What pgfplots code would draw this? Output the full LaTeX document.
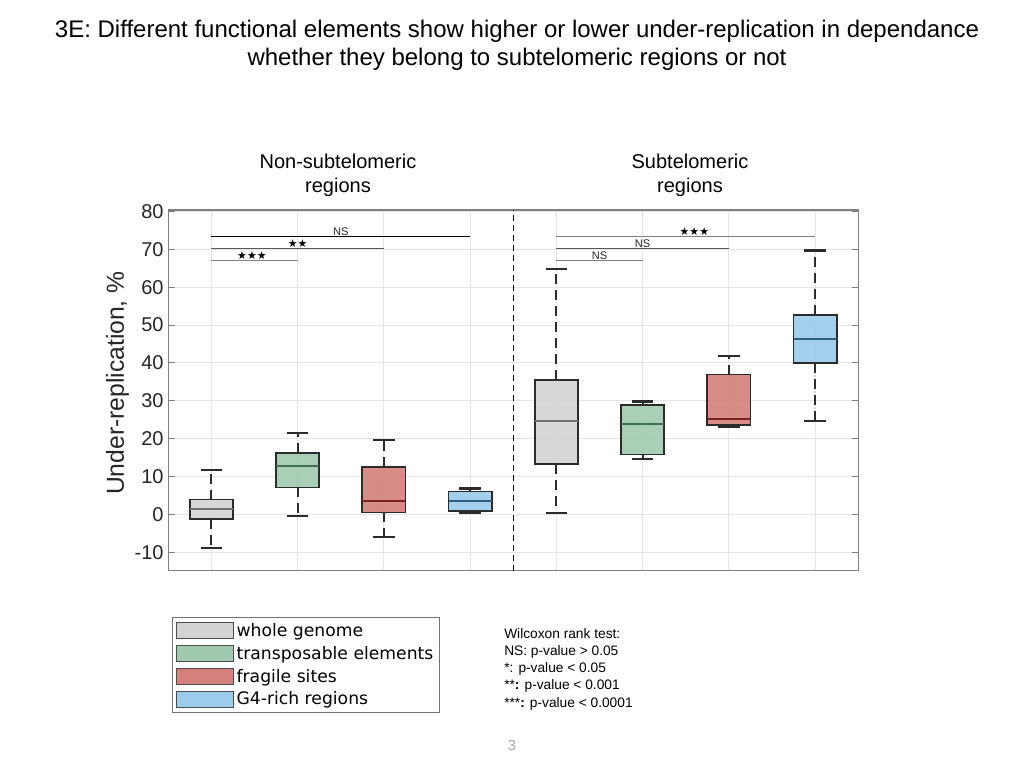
\documentclass[border=0pt]{standalone}
\usepackage{pgfplots}
\pgfplotsset{compat=1.18}
\usepgfplotslibrary{statistics}
\usepackage{fontspec}
\setmainfont{Liberation Sans}
\newfontfamily\dejavu{DejaVu Sans}
\definecolor{cgray}{HTML}{D3D3D3}
\definecolor{cgreen}{HTML}{A0CAB0}
\definecolor{cred}{HTML}{D4807C}
\definecolor{cblue}{HTML}{9CCBEC}
\definecolor{mgray}{HTML}{707070}
\definecolor{mgreen}{HTML}{3F6F55}
\definecolor{mred}{HTML}{7A2222}
\definecolor{mblue}{HTML}{2F5F80}
\definecolor{edge}{HTML}{2B2B2B}
\definecolor{txt}{HTML}{262626}
\newcommand{\stars}[1]{{\dejavu\fontsize{8.2}{8}\selectfont #1}}
\pgfplotsset{
  boxplot/draw direction=y,
  mybox/.style n args={7}{
    forget plot,
    boxplot prepared={draw position=#1, lower whisker=#2, lower quartile=#3, median=#4,
      upper quartile=#5, upper whisker=#6, box extend=0.5, whisker extend=0.25,
      every box/.style={fill=c#7, fill opacity=0.9, draw=edge, line width=1.3pt},
      every median/.style={draw=m#7, line width=1.5pt}},
  },
  boxplot/draw/lower whisker/.code={%
    \draw[edge, line width=1.6pt, dash pattern=on 7.5pt off 4.5pt]
      (boxplot cs:\pgfplotsboxplotvalue{lower quartile}) -- (boxplot cs:\pgfplotsboxplotvalue{lower whisker});
    \draw[edge, line width=1.6pt, solid]
      (boxplot whisker cs:\pgfplotsboxplotvalue{lower whisker},0) -- (boxplot whisker cs:\pgfplotsboxplotvalue{lower whisker},1);
  },
  boxplot/draw/upper whisker/.code={%
    \draw[edge, line width=1.6pt, dash pattern=on 7.5pt off 4.5pt]
      (boxplot cs:\pgfplotsboxplotvalue{upper quartile}) -- (boxplot cs:\pgfplotsboxplotvalue{upper whisker});
    \draw[edge, line width=1.6pt, solid]
      (boxplot whisker cs:\pgfplotsboxplotvalue{upper whisker},0) -- (boxplot whisker cs:\pgfplotsboxplotvalue{upper whisker},1);
  },
}
\begin{document}
\begin{tikzpicture}[x=0.75pt,y=0.75pt]
\path[fill=white] (0,0) rectangle (1024,768);
\node[font=\fontsize{18}{21}\selectfont, align=center, text=black] at (517,768-45)
  {3E: Different functional elements show higher or lower under-replication in dependance\\whether they belong to subtelomeric regions or not};
\node[font=\fontsize{15}{18}\selectfont, align=center] at (338,768-175) {Non-subtelomeric\\regions};
\node[font=\fontsize{15}{18}\selectfont, align=center] at (690,768-175) {Subtelomeric\\regions};

\begin{axis}[
  at={(126.2pt,148pt)}, anchor=south west, scale only axis,
  width=517.5pt, height=270.5pt,
  xmin=0.5, xmax=8.5, ymin=-14.9, ymax=80.4,
  xtick={1,...,8}, xticklabels={},
  ytick={-10,0,10,20,30,40,50,60,70,80},
  yticklabels={-10,0,10,20,30,40,50,60,70,80},
  grid=major, major grid style={color=black!10, line width=0.6pt},
  axis line style={color=black!50, line width=0.8pt},
  x tick style={draw=none},
  y tick style={color=black!50, line width=0.8pt},
  major tick length=5pt, tick align=inside, ytick pos=both,
  yticklabel style={font=\fontsize{15}{17}\selectfont, text=txt},
  ylabel={Under-replication, \%},
  every axis y label/.style={at={(axis description cs:-0.0735,0.52)}, rotate=90, anchor=center,
     font=\fontsize{18.5}{20}\selectfont, text=txt},
  legend image code/.code={\draw[#1] (0pt,-6pt) rectangle (42.75pt,6pt);},
  legend style={at={(axis description cs:0.0054,-0.1284)}, anchor=north west,
     draw=black!55, line width=0.8pt, font=\dejavu\fontsize{12.9}{14}\selectfont,
     inner xsep=2.5pt, inner ysep=2.2pt, row sep=1.9pt, cells={anchor=west}},
  clip=false,
]
% non-subtelomeric
\addplot[mybox={1}{-8.9}{-1.3}{1.5}{3.9}{11.7}{gray}] coordinates {};
\addplot[mybox={2}{-0.4}{7.1}{12.7}{16.2}{21.4}{green}] coordinates {};
\addplot[mybox={3}{-6.1}{0.5}{3.5}{12.5}{19.6}{red}] coordinates {};
\addplot[mybox={4}{0.3}{0.9}{3.5}{6.0}{6.8}{blue}] coordinates {};
% subtelomeric
\addplot[mybox={5}{0.3}{13.2}{24.6}{35.5}{64.7}{gray}] coordinates {};
\addplot[mybox={6}{14.7}{15.8}{23.9}{28.9}{29.8}{green}] coordinates {};
\addplot[mybox={7}{23.0}{23.6}{25.1}{36.9}{41.9}{red}] coordinates {};
\addplot[mybox={8}{24.6}{39.9}{46.2}{52.7}{69.7}{blue}] coordinates {};

\draw[black, line width=0.8pt, dash pattern=on 4.5pt off 3pt] (axis cs:4.5,-14.9) -- (axis cs:4.5,80.4);

% significance bars
\draw[black, line width=0.7pt] (axis cs:1,73.4) -- (axis cs:4,73.4);
\node[above, inner sep=0.3pt, font=\fontsize{8.3}{9}\selectfont, text=txt] at (axis cs:2.5,73.4) {NS};
\draw[black!65, line width=0.9pt] (axis cs:1,70.2) -- (axis cs:3,70.2);
\node[above, inner sep=0.3pt] at (axis cs:2,70.2) {\stars{★★}};
\draw[black!50, line width=1.0pt] (axis cs:1,67.1) -- (axis cs:2,67.1);
\node[above, inner sep=0.3pt] at (axis cs:1.47,67.1) {\stars{★★★}};

\draw[black!50, line width=1.0pt] (axis cs:5,73.4) -- (axis cs:8,73.4);
\node[above, inner sep=0.3pt] at (axis cs:6.6,73.4) {\stars{★★★}};
\draw[black!65, line width=0.9pt] (axis cs:5,70.2) -- (axis cs:7,70.2);
\node[above, inner sep=0.3pt, font=\fontsize{8.3}{9}\selectfont, text=txt] at (axis cs:6,70.2) {NS};
\draw[black!50, line width=1.0pt] (axis cs:5,67.1) -- (axis cs:6,67.1);
\node[above, inner sep=0.3pt, font=\fontsize{8.3}{9}\selectfont, text=txt] at (axis cs:5.5,67.1) {NS};

\addlegendimage{fill=cgray, draw=black!70, line width=0.8pt}
\addlegendentry{whole genome}
\addlegendimage{fill=cgreen, draw=black!70, line width=0.8pt}
\addlegendentry{transposable elements}
\addlegendimage{fill=cred, draw=black!70, line width=0.8pt}
\addlegendentry{fragile sites}
\addlegendimage{fill=cblue, draw=black!70, line width=0.8pt}
\addlegendentry{G4-rich regions}
\end{axis}

\node[anchor=north west, inner sep=0pt, align=left, font=\fontsize{10.3}{12.9}\selectfont]
  at (504,768-628) {Wilcoxon rank test:\\NS: p-value > 0.05\\*: p-value < 0.05\\**\textbf{:} p-value < 0.001\\***\textbf{:} p-value < 0.0001};
\node[font=\fontsize{11}{12}\selectfont, text=black!35] at (512,768-745) {3};
\end{tikzpicture}
\end{document}
